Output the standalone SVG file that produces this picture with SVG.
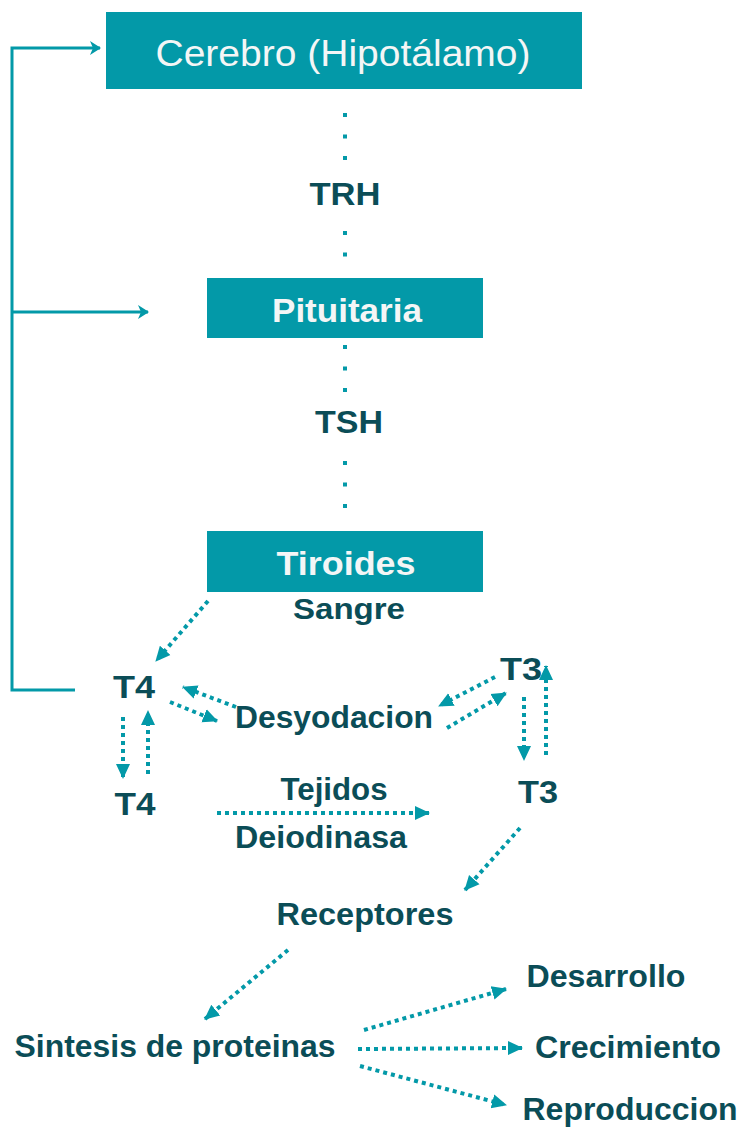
<svg xmlns="http://www.w3.org/2000/svg" width="743" height="1127" viewBox="0 0 743 1127">
<style>
.box{fill:#0399A8}
.bt{fill:#F4F6F6;font-family:"Liberation Sans",Arial,sans-serif;text-anchor:middle}
.lt{fill:#0B4D57;font-family:"Liberation Sans",Arial,sans-serif;font-weight:bold;text-anchor:middle}
.solid{fill:none;stroke:#0399A8;stroke-width:3}
.dot{fill:none;stroke:#0399A8;stroke-width:4;stroke-dasharray:4 4}
.vdot{fill:none;stroke:#0399A8;stroke-width:4;stroke-dasharray:4 17.5}
</style>
<defs>
<marker id="ah" markerUnits="userSpaceOnUse" markerWidth="18" markerHeight="18" refX="14" refY="8" orient="auto">
<path d="M0,1 L15,8 L0,15 Z" fill="#0399A8"/>
</marker>
<marker id="as" markerUnits="userSpaceOnUse" markerWidth="14" markerHeight="16" refX="10" refY="7" orient="auto">
<path d="M0,0 L11,7 L0,14 L3,7 Z" fill="#0399A8"/>
</marker>
</defs>

<g id="connectors">
<path class="solid" d="M75,690 H12 V48 H100" marker-end="url(#as)"/>
<path class="solid" d="M12,312 H148" marker-end="url(#as)"/>
<path class="vdot" d="M345,113 V160"/>
<path class="vdot" d="M345,231 V258"/>
<path class="vdot" d="M345,345 V393"/>
<path class="vdot" d="M345,461 V510"/>
<path class="dot" d="M208,601 L156,661" marker-end="url(#ah)"/>
<path class="dot" d="M236,707 L183,687" marker-end="url(#ah)"/>
<path class="dot" d="M170,702 L217,721" marker-end="url(#ah)"/>
<path class="dot" d="M495,677 L439,706" marker-end="url(#ah)"/>
<path class="dot" d="M447,728 L506,693" marker-end="url(#ah)"/>
<path class="dot" d="M123,717 V778" marker-end="url(#ah)"/>
<path class="dot" d="M148,774 V711" marker-end="url(#ah)"/>
<path class="dot" d="M524,697 V760" marker-end="url(#ah)"/>
<path class="dot" d="M546,755 V666" marker-end="url(#ah)"/>
<path class="dot" d="M217,813 H429" marker-end="url(#ah)"/>
<path class="dot" d="M520,828 L465,890" marker-end="url(#ah)"/>
<path class="dot" d="M288,950 L205,1019" marker-end="url(#ah)"/>
<path class="dot" d="M364,1030 L506,989" marker-end="url(#ah)"/>
<path class="dot" d="M358,1049 L522,1048" marker-end="url(#ah)"/>
<path class="dot" d="M360,1066 L506,1105" marker-end="url(#ah)"/>
</g>

<g id="cerebro">
<rect class="box" x="106" y="12" width="476" height="77"/>
<text class="bt" x="343" y="66" font-size="37" textLength="375" lengthAdjust="spacingAndGlyphs">Cerebro (Hipotálamo)</text>
</g>
<g id="trh"><text class="lt" x="345" y="205" font-size="32" textLength="71" lengthAdjust="spacingAndGlyphs">TRH</text></g>
<g id="pituitaria">
<rect class="box" x="207" y="278" width="276" height="60"/>
<text class="bt" x="347" y="322" font-size="33" font-weight="bold" textLength="150" lengthAdjust="spacingAndGlyphs">Pituitaria</text>
</g>
<g id="tsh"><text class="lt" x="349" y="433" font-size="31" textLength="68" lengthAdjust="spacingAndGlyphs">TSH</text></g>
<g id="tiroides">
<rect class="box" x="207" y="531" width="276" height="61"/>
<text class="bt" x="346" y="575" font-size="33" font-weight="bold" textLength="139" lengthAdjust="spacingAndGlyphs">Tiroides</text>
</g>
<g id="sangre"><text class="lt" x="349" y="619" font-size="29" textLength="112" lengthAdjust="spacingAndGlyphs">Sangre</text></g>
<g id="t4a"><text class="lt" x="134" y="698" font-size="32" textLength="42" lengthAdjust="spacingAndGlyphs">T4</text></g>
<g id="t3a"><text class="lt" x="521" y="680" font-size="32" textLength="42" lengthAdjust="spacingAndGlyphs">T3</text></g>
<g id="desyodacion"><text class="lt" x="334" y="728" font-size="31" textLength="198" lengthAdjust="spacingAndGlyphs">Desyodacion</text></g>
<g id="t4b"><text class="lt" x="135" y="815" font-size="32" textLength="41" lengthAdjust="spacingAndGlyphs">T4</text></g>
<g id="tejidos"><text class="lt" x="334" y="800" font-size="31" textLength="107" lengthAdjust="spacingAndGlyphs">Tejidos</text></g>
<g id="deiodinasa"><text class="lt" x="321" y="848" font-size="31" textLength="172" lengthAdjust="spacingAndGlyphs">Deiodinasa</text></g>
<g id="t3b"><text class="lt" x="538" y="803" font-size="32" textLength="40" lengthAdjust="spacingAndGlyphs">T3</text></g>
<g id="receptores"><text class="lt" x="365" y="925" font-size="31" textLength="177" lengthAdjust="spacingAndGlyphs">Receptores</text></g>
<g id="sintesis"><text class="lt" x="175" y="1057" font-size="31" textLength="321" lengthAdjust="spacingAndGlyphs">Sintesis de proteinas</text></g>
<g id="desarrollo"><text class="lt" x="606" y="987" font-size="31" textLength="159" lengthAdjust="spacingAndGlyphs">Desarrollo</text></g>
<g id="crecimiento"><text class="lt" x="628" y="1058" font-size="31" textLength="186" lengthAdjust="spacingAndGlyphs">Crecimiento</text></g>
<g id="reproduccion"><text class="lt" x="630" y="1120" font-size="31" textLength="215" lengthAdjust="spacingAndGlyphs">Reproduccion</text></g>
</svg>
